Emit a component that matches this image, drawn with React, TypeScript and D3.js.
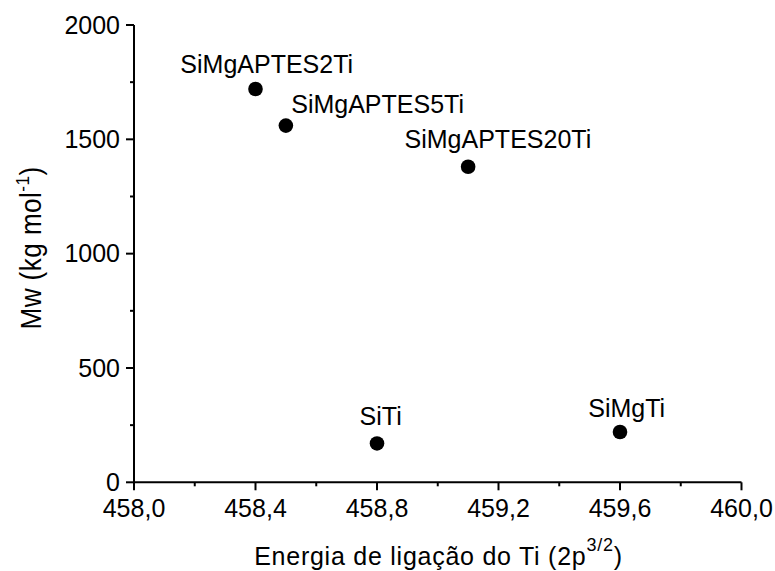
import React from "react";
import * as d3 from "d3";

const samples = ["SiMgAPTES2Ti", "SiMgAPTES5Ti", "SiMgAPTES20Ti", "SiTi", "SiMgTi"];
const energy = [458.4, 458.5, 459.1, 458.8, 459.6];
const mw = [1720, 1560, 1380, 170, 220];
// label anchor positions (data units)
const labelEnergy = [458.437, 458.802, 459.198, 458.812, 459.622];
const labelMw = [1790, 1617, 1462, 251, 284];

const xTicks = [458.0, 458.4, 458.8, 459.2, 459.6, 460.0];
const xMinor = [458.2, 458.6, 459.0, 459.4, 459.8];
const yTicks = [0, 500, 1000, 1500, 2000];
const yMinor = [250, 750, 1250, 1750];

const W = 775;
const H = 571;
const FONT = "'Liberation Sans', Arial, sans-serif";

export default function App() {
  const x = d3.scaleLinear().domain([458, 460]).range([134, 741.5]);
  const y = d3.scaleLinear().domain([0, 2000]).range([482.3, 25]);
  const fmt = (v: number) => v.toFixed(1).replace(".", ",");
  const x0 = x.range()[0];
  const y0 = y.range()[0];

  return (
    <svg
      width={W}
      height={H}
      style={{ position: "absolute", left: 0, top: 0, background: "#fff" }}
      fontFamily={FONT}
    >
      <rect width={W} height={H} fill="#fff" />
      {/* axes lines */}
      <line x1={x0} x2={x0} y1={y.range()[1]} y2={y0 + 1} stroke="#000" strokeWidth={2} />
      <line x1={x0 - 1} x2={x.range()[1]} y1={y0} y2={y0} stroke="#000" strokeWidth={2} />
      {/* y ticks */}
      {yTicks.map((t) => (
        <g key={"y" + t}>
          <line x1={x0 - 8} x2={x0} y1={y(t)} y2={y(t)} stroke="#000" strokeWidth={2} />
          <text x={x0 - 14} y={y(t)} dy="0.35em" textAnchor="end" fontSize={25}>
            {t}
          </text>
        </g>
      ))}
      {yMinor.map((t) => (
        <line key={"ym" + t} x1={x0 - 4} x2={x0} y1={y(t)} y2={y(t)} stroke="#000" strokeWidth={2} />
      ))}
      {/* x ticks */}
      {xTicks.map((t) => (
        <g key={"x" + t}>
          <line x1={x(t)} x2={x(t)} y1={y0} y2={y0 + 8} stroke="#000" strokeWidth={2} />
          <text x={x(t)} y={517} textAnchor="middle" fontSize={25}>
            {fmt(t)}
          </text>
        </g>
      ))}
      {xMinor.map((t) => (
        <line key={"xm" + t} x1={x(t)} x2={x(t)} y1={y0} y2={y0 + 4} stroke="#000" strokeWidth={2} />
      ))}
      {/* points */}
      {samples.map((s, i) => (
        <g key={s}>
          <circle cx={x(energy[i])} cy={y(mw[i])} r={7.3} fill="#000" />
          <text x={x(labelEnergy[i])} y={y(labelMw[i])} textAnchor="middle" fontSize={25}>
            {s}
          </text>
        </g>
      ))}
      {/* x title */}
      <text x={438.5} y={565} textAnchor="middle" fontSize={25} letterSpacing={0.75}>
        Energia de ligação do Ti (2p
        <tspan fontSize={18} dy={-14}>3/2</tspan>
        <tspan dy={14}>)</tspan>
      </text>
      {/* y title */}
      <text
        transform="translate(40.5,248) rotate(-90) scale(0.9,1)"
        textAnchor="middle"
        fontSize={29}
        letterSpacing={0.5}
      >
        Mw (kg mol
        <tspan fontSize={19} dy={-12}>-1</tspan>
        <tspan dy={12}>)</tspan>
      </text>
    </svg>
  );
}
